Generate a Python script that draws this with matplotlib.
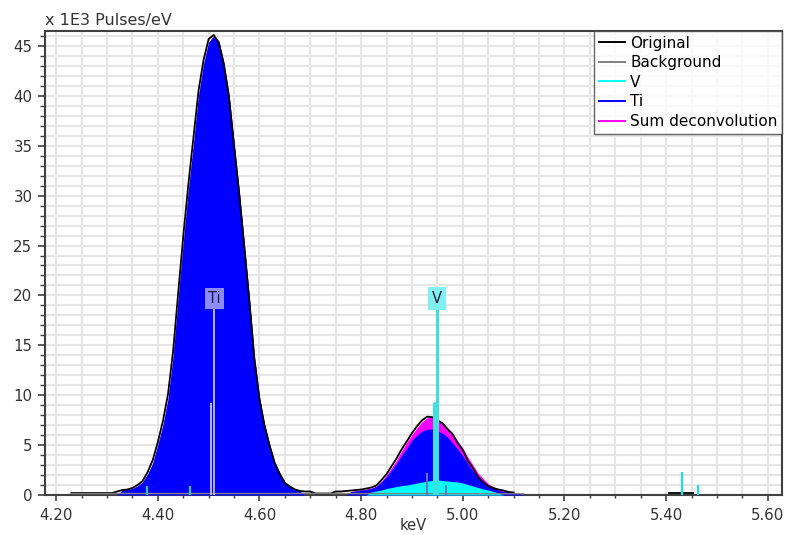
import numpy as np
import matplotlib
matplotlib.use('Agg')
import matplotlib.pyplot as plt
from matplotlib.lines import Line2D
from matplotlib.ticker import MultipleLocator, FormatStrFormatter

# channel energies (keV), 10 eV channels
kev = np.round(np.arange(4.23, 5.125, 0.01), 2)

nan = np.nan
original = [0.2, 0.2, 0.2, 0.2, 0.2, 0.2, 0.2, 0.2, 0.2, 0.35,
            0.5, 0.55, 0.7, 1.0, 1.4, 2.3, 3.5, 5.3, 7.4, 10.1,
            14.4, 20.2, 25.9, 31.1, 35.8, 40.5, 43.6, 45.7, 46.1, 45.3,
            43.0, 39.8, 35.0, 30.2, 24.9, 19.5, 13.6, 9.6, 6.9, 4.9,
            3.2, 2.1, 1.2, 0.85, 0.55, 0.4, 0.35, 0.35, 0.15, 0.15,
            0.15, 0.15, 0.35, 0.35, 0.4, 0.45, 0.5, 0.55, 0.65, 0.75,
            0.95, 1.5, 2.1, 2.9, 3.7, 4.6, 5.4, 6.2, 6.9, 7.5,
            7.85, 7.8, 7.5, 7.2, 6.6, 6.1, 5.2, 4.5, 3.4, 2.7,
            1.8, 1.3, 0.9, 0.7, 0.55, 0.45, 0.3, 0.25, nan, nan]

ti = [0, 0, 0, 0, 0, 0, 0, 0, 0, 0,
      0.5, 0.55, 0.65, 0.9, 1.3, 2.1, 3.2, 5.0, 7.0, 9.6,
      13.8, 19.6, 25.2, 30.5, 35.1, 40.0, 43.2, 45.4, 46.0, 45.5,
      43.4, 40.2, 35.3, 30.6, 25.3, 19.8, 13.9, 9.8, 7.1, 5.1,
      3.3, 2.2, 1.3, 0.9, 0.6, 0.35, 0, 0, 0, 0,
      0, 0, 0, 0, 0, 0.35, 0.4, 0.5, 0.55, 0.65,
      0.85, 1.3, 1.85, 2.5, 3.2, 4.0, 4.7, 5.5, 6.0, 6.4,
      6.6, 6.6, 6.4, 6.2, 5.8, 5.2, 4.6, 3.9, 3.1, 2.4,
      1.8, 1.3, 0.95, 0.7, 0.45, 0.35, 0.25, 0.2, 0.15, 0]

v = [0, 0, 0, 0, 0, 0, 0, 0, 0, 0,
     0, 0, 0, 0, 0, 0, 0, 0, 0, 0,
     0, 0, 0, 0, 0, 0, 0, 0, 0, 0,
     0, 0, 0, 0, 0, 0, 0, 0, 0, 0,
     0, 0, 0, 0, 0, 0, 0, 0, 0, 0,
     0, 0, 0, 0, 0, 0, 0, 0, 0, 0.3,
     0.4, 0.5, 0.65, 0.75, 0.85, 0.95, 1.0, 1.1, 1.2, 1.3,
     1.4, 1.45, 1.5, 1.45, 1.4, 1.35, 1.3, 1.2, 1.05, 0.9,
     0.75, 0.6, 0.5, 0.35, 0.2, 0, 0, 0, 0, 0]

sum_dec = [0, 0, 0, 0, 0, 0, 0, 0, 0, 0,
           0.5, 0.55, 0.65, 0.9, 1.3, 2.1, 3.2, 5.0, 7.0, 9.6,
           13.8, 19.6, 25.2, 30.5, 35.1, 40.0, 43.2, 45.4, 46.0, 45.5,
           43.4, 40.2, 35.3, 30.6, 25.3, 19.8, 13.9, 9.8, 7.1, 5.1,
           3.3, 2.2, 1.3, 0.9, 0.6, 0.35, 0, 0, 0, 0,
           0, 0, 0, 0, 0, 0.35, 0.45, 0.5, 0.6, 0.7,
           0.9, 1.4, 2.0, 2.75, 3.55, 4.45, 5.3, 6.05, 6.75, 7.35,
           7.75, 7.8, 7.55, 7.25, 6.75, 6.2, 5.4, 4.7, 3.8, 3.0,
           2.2, 1.65, 1.15, 0.8, 0.55, 0.4, 0.3, 0.25, 0.2, 0]

bg_kev = [4.23, 4.70, 5.12]
bg_counts = [0.15, 0.15, 0.12]

# small piece of the measured spectrum near V K-beta
orig2_kev = [5.405, 5.42, 5.43, 5.44, 5.452]
orig2_counts = [0.2, 0.2, 0.2, 0.2, 0.2]

# element marker lines: energy, height
ti_lines_kev = [4.505, 4.511]
ti_lines_top = [9.2, 18.8]
tikb_lines_kev = [4.930, 4.966]
tikb_lines_top = [2.2, 1.0]
v_lines_kev = [4.944, 4.949]
v_lines_top = [9.3, 18.8]
vb_lines_kev = [5.432, 5.463]
vb_lines_top = [2.3, 1.0]
esc_lines_kev = [4.379, 4.464]
esc_lines_top = [0.9, 0.9]

W, H = 787, 535
fig = plt.figure(figsize=(W / 100, H / 100), dpi=100)
ax = fig.add_axes([45 / W, 1 - 495 / H, (782 - 45) / W, (495 - 31) / H])

ax.fill_between(kev, sum_dec, color='#ff00ff', lw=0, zorder=2)
ax.fill_between(kev, ti, color='#0000ff', lw=0, zorder=3)
ax.fill_between(kev, v, color='#00ffff', lw=0, zorder=4)
ax.plot(kev, original, color='black', lw=1.3, zorder=5)
ax.plot(orig2_kev, orig2_counts, color='black', lw=1.3, zorder=5)
ax.plot(bg_kev, bg_counts, color='#808080', lw=1.0, zorder=6)

ax.vlines(ti_lines_kev, 0, ti_lines_top, color='#b4b4ec', lw=1.4, zorder=7)
ax.vlines(tikb_lines_kev, 0, tikb_lines_top, color='#7070c0', lw=1.4, zorder=7)
ax.vlines(v_lines_kev, 0, v_lines_top, color='#3ee0e0', lw=2.2, zorder=7)
ax.vlines(vb_lines_kev, 0, vb_lines_top, color='#20e0e0', lw=1.6, zorder=7)
ax.vlines(esc_lines_kev, 0, esc_lines_top, color='#30c8a0', lw=1.6, zorder=7)

ax.text(4.511, 19.7, 'Ti', ha='center', va='center', fontsize=10.5, color='#1a1a40', zorder=8,
        bbox=dict(boxstyle='square,pad=0.22', fc='#8c8cff', ec='none'))
ax.text(4.949, 19.7, 'V', ha='center', va='center', fontsize=10.5, color='#1a1a40', zorder=8,
        bbox=dict(boxstyle='square,pad=0.28', fc='#80f0f0', ec='none'))

ax.set_xlim(4.178, 5.628)
ax.set_ylim(0, 46.5)
ax.xaxis.set_major_locator(MultipleLocator(0.2))
ax.xaxis.set_minor_locator(MultipleLocator(0.05))
ax.xaxis.set_major_formatter(FormatStrFormatter('%.2f'))
ax.yaxis.set_major_locator(MultipleLocator(5))
ax.yaxis.set_minor_locator(MultipleLocator(1))

ax.set_axisbelow(True)
ax.grid(which='both', color='#e6e6e6', lw=1.5)
ax.tick_params(which='major', width=1.2, color='#404040', labelsize=10.8,
               labelcolor='#333333')
ax.tick_params(axis='x', which='major', length=4.5, pad=5)
ax.tick_params(axis='x', which='minor', length=2.5, width=1.0, color='#404040')
ax.tick_params(axis='y', which='major', length=5, pad=4)
ax.tick_params(axis='y', which='minor', length=3.5, width=1.0, color='#404040')
for s in ax.spines.values():
    s.set_color('#404040')
    s.set_linewidth(1.5)

fig.text(413 / W, 1 - 526 / H, 'keV', fontsize=10.5, color='#333333',
         ha='center', va='center')
fig.text(45 / W, 1 - 20 / H, 'x 1E3 Pulses/eV', fontsize=11.5, color='#333333',
         ha='left', va='center')

handles = [Line2D([], [], color='black', lw=1.4),
           Line2D([], [], color='#808080', lw=1.4),
           Line2D([], [], color='#00ffff', lw=1.4),
           Line2D([], [], color='#0000ff', lw=1.4),
           Line2D([], [], color='#ff00ff', lw=1.4)]
labels = ['Original', 'Background', 'V', 'Ti', 'Sum deconvolution']
leg = ax.legend(handles, labels, loc='upper right', bbox_to_anchor=(1, 1), borderaxespad=0,
                fontsize=11, frameon=True, fancybox=False, handlelength=1.75,
                handletextpad=0.3, labelspacing=0.3, borderpad=0.3)
leg.get_frame().set_edgecolor('#404040')
leg.get_frame().set_linewidth(1.0)
leg.set_zorder(10)

fig.savefig('out.png', dpi=100)
